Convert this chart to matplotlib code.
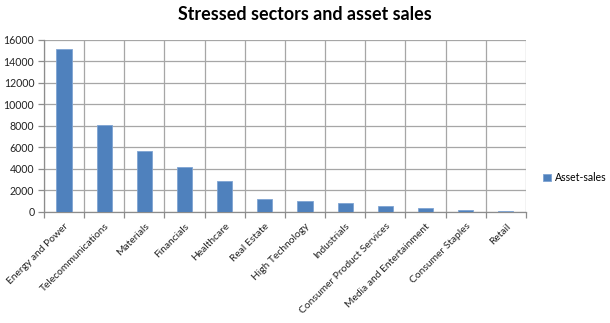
import matplotlib
matplotlib.use("Agg")
import matplotlib.pyplot as plt
import numpy as np

sectors = ["Energy and Power", "Telecommunications", "Materials", "Financials",
           "Healthcare", "Real Estate", "High Technology", "Industrials",
           "Consumer Product Services", "Media and Entertainment",
           "Consumer Staples", "Retail"]
asset_sales = [15100, 8100, 5700, 4200, 2900, 1200, 1000, 800, 580, 400, 180, 90]
y_ticks = [0, 2000, 4000, 6000, 8000, 10000, 12000, 14000, 16000]

plt.rcParams['font.family'] = ['Lato', 'DejaVu Sans']

fig = plt.figure(figsize=(6.10, 3.23), dpi=100)
ax = fig.add_axes([0.0721, 0.3437, 0.790, 0.534])

x = np.arange(len(sectors))
bars = ax.bar(x, asset_sales, width=0.38, color="#4F81BD", edgecolor="#7FA4D3",
              linewidth=0.6, label="Asset-sales", zorder=3)

ax.set_xlim(-0.5, len(sectors) - 0.5)
ax.set_ylim(0, 16000)
ax.set_yticks(y_ticks)
ax.set_yticklabels([str(v) for v in y_ticks], fontsize=7.6, color="#222222")

# category boundaries carry the vertical grid and tick marks
bounds = np.arange(len(sectors) + 1) - 0.5
ax.set_xticks(bounds, minor=False)
ax.set_xticklabels([])
ax.set_xticks(x, minor=True)
ax.set_xticklabels(sectors, minor=True, rotation=45, ha='right', va='top',
                   rotation_mode='anchor', fontsize=7.4, color="#222222")
ax.tick_params(axis='x', which='minor', length=0, pad=7)
ax.tick_params(axis='x', which='major', length=4, color="#8C8C8C", width=0.9)
ax.tick_params(axis='y', length=4, color="#8C8C8C", width=0.9, pad=3)

ax.grid(True, which='major', axis='both', color="#A6A6A6", linewidth=0.9, zorder=0)
for side in ['top', 'right']:
    ax.spines[side].set_visible(False)
for side in ['left', 'bottom']:
    ax.spines[side].set_color("#8C8C8C")
    ax.spines[side].set_linewidth(0.9)

fig.suptitle("Stressed sectors and asset sales", x=0.5, y=0.98,
             fontsize=12.9, fontweight='bold', color="#000000")

fig.legend(handles=[bars], labels=["Asset-sales"], loc='center left',
           bbox_to_anchor=(0.875, 0.45), frameon=False, fontsize=7.6,
           handlelength=0.7, handleheight=0.7, handletextpad=0.4)

fig.savefig("out.png", dpi=100, facecolor="white")
